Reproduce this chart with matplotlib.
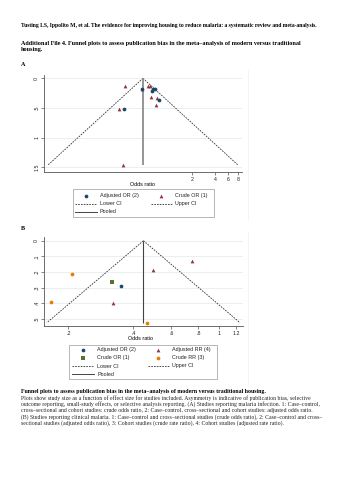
import numpy as np
import matplotlib
matplotlib.use('Agg')
import matplotlib.pyplot as plt
from matplotlib.ticker import FixedLocator, NullLocator

# ---- data ----
# panel A: malaria infection, (odds ratio, standard error of log OR)
a_adj_or = [0.44, 0.594, 0.623, 0.656, 0.740, 0.258]
a_adj_se = [0.18, 0.209, 0.185, 0.18, 0.365, 0.522]
a_crude_or = [0.266, 0.536, 0.564, 0.45, 0.576, 0.703, 0.683, 0.224, 0.25]
a_crude_se = [0.124, 0.124, 0.124, 0.18, 0.31, 0.327, 0.45, 0.522, 1.46]
a_pooled = 0.457
a_xticks = [2, 4, 6, 8]
a_xticklabels = ['2', '4', '6', '8']
a_yticks = [0, 0.5, 1, 1.5]
a_yticklabels = ['0', '.5', '1', '1.5']

# panel B: clinical malaria
b_adj_or = [0.35]
b_adj_or_se = [0.29]
b_adj_rr = [0.745, 0.495, 0.323]
b_adj_rr_se = [0.128, 0.188, 0.397]
b_crude_or = [0.319]
b_crude_or_se = [0.265]
b_crude_rr = [0.207, 0.166, 0.461]
b_crude_rr_se = [0.213, 0.391, 0.526]
b_pooled = 0.445
b_xticks = [0.2, 0.4, 0.6, 0.8, 1, 1.2]
b_xticklabels = ['.2', '.4', '.6', '.8', '1', '1.2']
b_yticks = [0, 0.1, 0.2, 0.3, 0.4, 0.5]
b_yticklabels = ['0', '.1', '.2', '.3', '.4', '.5']

W, H = 339, 480
NAVY = '#1a476f'
MAROON = '#90353b'
GREEN = '#55752f'
ORANGE = '#e37e00'
SANS = 'Liberation Sans'
SERIF = 'Liberation Serif'
MS = 2.7

fig = plt.figure(figsize=(W / 100, H / 100), dpi=100)
fig.patch.set_facecolor('white')


def px_axes(l, t, r, b):
    return fig.add_axes([l / W, 1 - b / H, (r - l) / W, (b - t) / H])


def funnel(ax, pooled, maxse, xlim, ylim, xt, xtl, yt, ytl, pooled_col, pooled_lw):
    ax.set_xscale('log')
    ax.set_xlim(*xlim)
    ax.set_ylim(*ylim)
    se = np.array([0, maxse])
    ax.plot(pooled * np.exp(-1.96 * se), se, color='#333333', lw=0.6,
            dashes=(2, 1.3), zorder=2)
    ax.plot(pooled * np.exp(1.96 * se), se, color='#333333', lw=0.6,
            dashes=(2, 1.3), zorder=2)
    ax.plot([pooled, pooled], [0, maxse], color=pooled_col, lw=pooled_lw,
            solid_capstyle='butt', zorder=2)
    ax.xaxis.set_major_locator(FixedLocator(xt))
    ax.xaxis.set_minor_locator(NullLocator())
    ax.set_xticklabels(xtl)
    ax.set_yticks(yt)
    ax.set_yticklabels(ytl, rotation=90, va='center')
    for y in yt:
        ax.axhline(y, color='#e6eef0', lw=0.6, zorder=0)
    for s in ['top', 'right']:
        ax.spines[s].set_visible(False)
    for s in ['left', 'bottom']:
        ax.spines[s].set_color('#555555')
        ax.spines[s].set_linewidth(0.6)
    ax.tick_params(length=2, width=0.5, color='#555555', pad=1.5,
                   labelsize=3.8, labelcolor='#222222')
    for lab in ax.get_xticklabels() + ax.get_yticklabels():
        lab.set_fontfamily(SANS)
    ax.patch.set_alpha(0)


# ---- panel A ----
axA = px_axes(44, 75, 242, 171.7)
funnel(axA, a_pooled, max(a_crude_se + a_adj_se), (0.0232, 9.02), (1.572, -0.056),
       a_xticks, a_xticklabels, a_yticks, a_yticklabels, '#8c8c8c', 1.3)
axA.plot(a_crude_or, a_crude_se, '^', color=MAROON, ms=MS, mew=0, zorder=3)
axA.plot(a_adj_or, a_adj_se, 'o', color=NAVY, ms=MS, mew=0, zorder=3)

# ---- panel B ----
axB = px_axes(44, 237, 243, 326)
allse_b = b_adj_or_se + b_adj_rr_se + b_crude_or_se + b_crude_rr_se
funnel(axB, b_pooled, max(allse_b), (0.154, 1.288), (0.547, -0.024),
       b_xticks, b_xticklabels, b_yticks, b_yticklabels, '#444444', 0.8)
axB.plot(b_adj_or, b_adj_or_se, 'o', color=NAVY, ms=MS, mew=0, zorder=3)
axB.plot(b_adj_rr, b_adj_rr_se, '^', color=MAROON, ms=MS, mew=0, zorder=3)
axB.plot(b_crude_or, b_crude_or_se, 's', color=GREEN, ms=MS * 0.9, mew=0, zorder=3)
axB.plot(b_crude_rr, b_crude_rr_se, 'o', color=ORANGE, ms=MS, mew=0, zorder=3)

# ---- overlay in pixel coordinates: page text, legends ----
ov = fig.add_axes([0, 0, 1, 1], zorder=-1)
ov.set_xlim(0, W)
ov.set_ylim(H, 0)
ov.axis('off')

# faint graph region edges
ov.plot([248, 248], [70, 219], color='#f2f2f2', lw=0.6)
ov.plot([248, 248], [232, 384], color='#f2f2f2', lw=0.6)

ov.text(21, 26, 'Tusting LS, Ippolito M, et al. The evidence for improving housing to reduce '
        'malaria: a systematic review and meta-analysis.',
        fontsize=4.08, fontweight='bold', family=SERIF, va='center')
ov.text(21, 43.3, 'Additional File 4. Funnel plots to assess publication bias in the '
        'meta\u2013analysis of modern versus traditional',
        fontsize=4.45, fontweight='bold', family=SERIF, va='center')
ov.text(21, 49.5, 'housing.', fontsize=4.45, fontweight='bold', family=SERIF, va='center')
ov.text(21, 65, 'A', fontsize=4.4, fontweight='bold', family=SERIF, va='center')
ov.text(21, 229, 'B', fontsize=4.4, fontweight='bold', family=SERIF, va='center')

ov.text(143, 184, 'Odds ratio', fontsize=3.9, family=SANS, ha='center', va='center')
ov.text(141, 338.7, 'Odds ratio', fontsize=3.9, family=SANS, ha='center', va='center')


def legend_box(l, t, r, b):
    ov.add_patch(plt.Rectangle((l, t), r - l, b - t, fill=False, ec='#9a9a9a', lw=0.5))


def leg_text(x, y, s):
    ov.text(x, y, s, fontsize=3.9, family=SANS, va='center', color='#222222')


def leg_line(x0, x1, y, dashed, col='#333333', lw=0.6):
    if dashed:
        ov.plot([x0, x1], [y, y], color=col, lw=lw, dashes=(2, 1.3))
    else:
        ov.plot([x0, x1], [y, y], color=col, lw=lw)


# legend A
legend_box(73, 189, 214, 217)
ov.plot(86, 195.7, 'o', color=NAVY, ms=MS, mew=0)
leg_text(100, 195.7, 'Adjusted OR (2)')
ov.plot(161, 195.7, '^', color=MAROON, ms=MS, mew=0)
leg_text(175, 195.7, 'Crude OR (1)')
leg_line(75, 97, 203.7, True)
leg_text(100, 203.7, 'Lower CI')
leg_line(151, 172, 203.7, True)
leg_text(175, 203.7, 'Upper CI')
leg_line(75, 97, 211.7, False, '#444444', 0.7)
leg_text(100, 211.7, 'Pooled')

# legend B
legend_box(69, 345, 217, 379)
ov.plot(83, 350, 'o', color=NAVY, ms=MS, mew=0)
leg_text(97, 350, 'Adjusted OR (2)')
ov.plot(158, 350, '^', color=MAROON, ms=MS, mew=0)
leg_text(172, 350, 'Adjusted RR (4)')
ov.plot(83, 358, 's', color=GREEN, ms=MS * 0.9, mew=0)
leg_text(97, 358, 'Crude OR (1)')
ov.plot(158, 358, 'o', color=ORANGE, ms=MS, mew=0)
leg_text(172, 358, 'Crude RR (3)')
leg_line(72, 94, 366, True)
leg_text(97, 366, 'Lower CI')
leg_line(148, 170, 366, True)
leg_text(172, 366, 'Upper CI')
leg_line(72, 94, 374, False, '#444444', 0.7)
leg_text(97, 374, 'Pooled')

# caption
ov.text(21, 391, 'Funnel plots to assess publication bias in the meta\u2013analysis of '
        'modern versus traditional housing.',
        fontsize=4.2, fontweight='bold', family=SERIF, va='center')
caption = [
    'Plots show study size as a function of effect size for studies included. Asymmetry is '
    'indicative of publication bias, selective',
    'outcome reporting, small-study effects, or selective analysis reporting. (A) Studies '
    'reporting malaria infection. 1: Case\u2013control,',
    'cross\u2013sectional and cohort studies: crude odds ratio, 2: Case\u2013control, '
    'cross\u2013sectional and cohort studies: adjusted odds ratio.',
    '(B) Studies reporting clinical malaria. 1: Case\u2013control and cross\u2013sectional '
    'studies (crude odds ratio), 2: Case\u2013control and cross\u2013',
    'sectional studies (adjusted odds ratio), 3: Cohort studies (crude rate ratio), '
    '4: Cohort studies (adjusted rate ratio).',
]
for i, line in enumerate(caption):
    ov.text(21, 398 + i * 6.4, line, fontsize=4.15, family=SERIF, va='center',
            color='#222222')

fig.savefig('out.png', dpi=100, facecolor='white')
